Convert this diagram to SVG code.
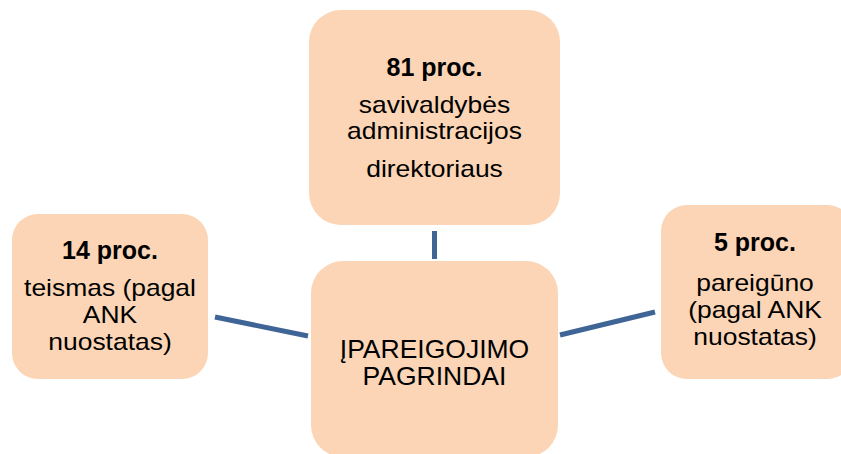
<svg xmlns="http://www.w3.org/2000/svg" width="841" height="454" viewBox="0 0 841 454">
<style>
.box{fill:#FBD5B5;}
.b{font-family:"Liberation Sans",Arial,sans-serif;font-weight:bold;font-size:25px;fill:#000;text-anchor:middle;}
.r{font-family:"Liberation Sans",Arial,sans-serif;font-size:23px;fill:#000;text-anchor:middle;}
.c{font-family:"Liberation Sans",Arial,sans-serif;font-size:26.5px;fill:#000;text-anchor:middle;}
.ln{stroke:#3E6596;stroke-width:5;fill:none;}
</style>
<rect width="841" height="454" fill="#fff"/>
<g id="connectors">
<line class="ln" x1="434.5" y1="231" x2="434.5" y2="259"/>
<line class="ln" x1="215" y1="317" x2="308" y2="336"/>
<line class="ln" x1="560" y1="335" x2="655" y2="312"/>
</g>
<g id="node-top">
<rect class="box" x="309" y="10" width="251" height="215" rx="32"/>
<text class="b" x="434.5" y="76">81 proc.</text>
<g transform="translate(434.5,0) scale(1.15,1)">
<text class="r" x="0" y="113">savivaldybės</text>
<text class="r" x="0" y="139">administracijos</text>
<text class="r" x="0" y="177">direktoriaus</text>
</g>
</g>
<g id="node-left">
<rect class="box" x="12" y="214" width="196" height="165" rx="26"/>
<text class="b" x="110" y="259">14 proc.</text>
<g transform="translate(110,0) scale(1.15,1)">
<text class="r" x="0" y="296">teismas (pagal</text>
<text class="r" x="0" y="323">ANK</text>
<text class="r" x="0" y="350">nuostatas)</text>
</g>
</g>
<g id="node-center">
<rect class="box" x="311" y="261" width="247" height="196" rx="32"/>
<text class="c" x="434.5" y="358">ĮPAREIGOJIMO</text>
<text class="c" x="434.5" y="385">PAGRINDAI</text>
</g>
<g id="node-right">
<rect class="box" x="661" y="205" width="192" height="174" rx="26"/>
<text class="b" x="755" y="251">5 proc.</text>
<g transform="translate(755,0) scale(1.15,1)">
<text class="r" x="0" y="291">pareigūno</text>
<text class="r" x="0" y="318">(pagal ANK</text>
<text class="r" x="0" y="345">nuostatas)</text>
</g>
</g>
</svg>
